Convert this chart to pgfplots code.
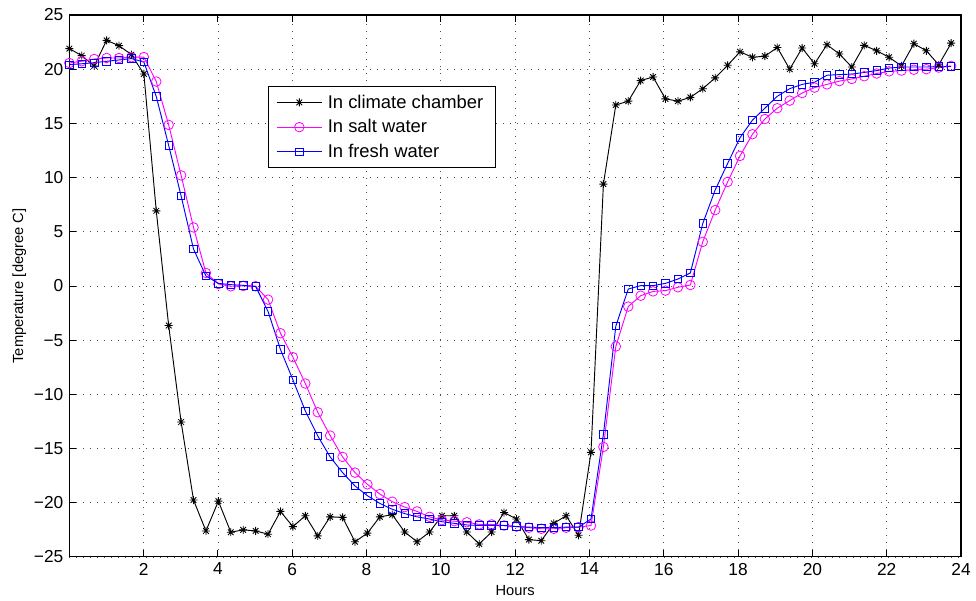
\documentclass[border=0pt]{standalone}
\usepackage{fontspec}
\setmainfont{Liberation Sans}
\usepackage{pgfplots}
\usepackage{pgfplotstable}
\pgfplotsset{compat=1.18}
\definecolor{mmag}{rgb}{1,0,1}
\definecolor{mblue}{rgb}{0,0,1}

\pgfdeclareplotmark{mstar}{%
  \pgfpathmoveto{\pgfqpoint{-\pgfplotmarksize}{0pt}}%
  \pgfpathlineto{\pgfqpoint{\pgfplotmarksize}{0pt}}%
  \pgfpathmoveto{\pgfqpoint{0pt}{-\pgfplotmarksize}}%
  \pgfpathlineto{\pgfqpoint{0pt}{\pgfplotmarksize}}%
  \pgfpathmoveto{\pgfqpoint{-0.707\pgfplotmarksize}{-0.707\pgfplotmarksize}}%
  \pgfpathlineto{\pgfqpoint{0.707\pgfplotmarksize}{0.707\pgfplotmarksize}}%
  \pgfpathmoveto{\pgfqpoint{-0.707\pgfplotmarksize}{0.707\pgfplotmarksize}}%
  \pgfpathlineto{\pgfqpoint{0.707\pgfplotmarksize}{-0.707\pgfplotmarksize}}%
  \pgfusepathqstroke}

\pgfplotstableread{
x b m f
0 21.9 20.57 20.42
0.334 21.25 20.73 20.5
0.669 20.3 20.94 20.6
1.003 22.66 21.03 20.73
1.337 22.17 21.03 20.85
1.672 21.34 21.1 20.98
2.006 19.56 21.12 20.66
2.340 6.93 18.86 17.48
2.674 -3.65 14.86 12.97
3.009 -12.55 10.2 8.3
3.343 -19.75 5.4 3.4
3.677 -22.6 1.2 0.92
4.012 -19.85 0.18 0.24
4.346 -22.72 -0.03 0.12
4.680 -22.5 0.0 0.06
5.015 -22.6 -0.02 -0.05
5.349 -22.9 -1.26 -2.35
5.683 -20.8 -4.36 -5.86
6.017 -22.2 -6.57 -8.65
6.352 -21.2 -9.0 -11.53
6.686 -23.06 -11.65 -13.83
7.020 -21.3 -13.8 -15.77
7.355 -21.35 -15.77 -17.22
7.689 -23.6 -17.22 -18.45
8.023 -22.8 -18.3 -19.35
8.358 -21.3 -19.2 -20.06
8.692 -21.1 -19.9 -20.6
9.026 -22.7 -20.4 -21.0
9.360 -23.6 -20.8 -21.3
9.695 -22.7 -21.3 -21.5
10.029 -21.2 -21.6 -21.75
10.363 -21.2 -21.7 -21.9
10.698 -22.7 -21.8 -22.05
11.032 -23.8 -22.0 -22.1
11.366 -22.7 -22.0 -22.1
11.701 -20.9 -22.1 -22.1
12.035 -21.5 -22.2 -22.2
12.369 -23.4 -22.3 -22.25
12.703 -23.5 -22.4 -22.3
13.038 -21.9 -22.4 -22.3
13.372 -21.2 -22.3 -22.25
13.706 -23.0 -22.25 -22.25
14.041 -15.35 -22.1 -21.5
14.375 9.4 -14.85 -13.7
14.709 16.7 -5.58 -3.7
15.044 17.05 -1.9 -0.28
15.378 18.95 -0.9 0.03
15.712 19.28 -0.5 0.03
16.046 17.26 -0.43 0.24
16.381 17.05 -0.12 0.64
16.715 17.4 0.09 1.2
17.049 18.2 4.07 5.76
17.384 19.2 7.0 8.86
17.718 20.36 9.6 11.3
18.052 21.6 12.0 13.68
18.387 21.1 14.0 15.3
18.721 21.2 15.4 16.4
19.055 22.0 16.4 17.5
19.389 20.0 17.1 18.2
19.724 21.95 17.8 18.6
20.058 20.5 18.3 18.8
20.392 22.26 18.6 19.44
20.727 21.4 18.9 19.5
21.061 20.2 19.1 19.55
21.395 22.2 19.35 19.7
21.730 21.7 19.6 19.87
22.064 21.1 19.8 20.1
22.398 20.3 19.87 20.2
22.732 22.35 19.95 20.2
23.067 21.7 20.0 20.2
23.401 20.4 20.15 20.25
23.735 22.4 20.3 20.25
}\datatable

\begin{document}
\begin{tikzpicture}
\begin{axis}[
  scale only axis,
  width=668.8pt, height=406.5pt,
  xmin=0, xmax=24, ymin=-25, ymax=25,
  xtick={2,4,...,24},
  ytick={-25,-20,...,25},
  yticklabels={−25,−20,−15,−10,−5,0,5,10,15,20,25},
  /pgf/number format/assume math mode=true,
  tick label style={font=\fontsize{13}{15}\selectfont},
  xticklabel style={yshift=-1pt},
  yticklabel style={xshift=-1pt},
  tick align=inside,
  major tick length=5pt,
  tick style={black, line width=0.7pt},
  axis line style={line width=0.8pt},
  grid=major,
  major grid style={black!70, line width=0.6pt, dash pattern=on 0.75pt off 4.5pt},
  xlabel={Hours},
  ylabel={Temperature [degree C]},
  label style={font=\fontsize{11}{13}\selectfont},
  xlabel style={at={(axis description cs:0.5,-0.0627)}, anchor=center},
  ylabel style={at={(axis description cs:-0.056,0.5)}, anchor=center},
  legend cell align=left,
  legend style={at={(0.2232,0.8685)}, anchor=north west, draw=black, line width=0.8pt,
    font=\fontsize{13.8}{16}\selectfont, inner xsep=5.5pt, inner ysep=4pt, row sep=3pt,
    nodes={line width=0.6pt, inner xsep=4pt}},
  legend image code/.code={\draw[mark repeat=2,mark phase=2] plot coordinates {(0pt,0pt) (17pt,0pt) (34pt,0pt)};},
]
\addplot[black, line width=0.7pt, mark=mstar, mark size=3pt, mark options={line width=0.65pt}] table[x=x,y=b] {\datatable};
\addlegendentry{In climate chamber}
\addplot[mmag, line width=0.7pt, mark=o, mark size=3.6pt, mark options={line width=0.6pt}] table[x=x,y=m] {\datatable};
\addlegendentry{In salt water}
\addplot[mblue, line width=0.7pt, mark=square, mark size=2.8pt, mark options={line width=0.6pt}] table[x=x,y=f] {\datatable};
\addlegendentry{In fresh water}
\end{axis}
\pgfresetboundingbox
\path[use as bounding box] ([xshift=-52pt,yshift=-33pt]current axis.south west) rectangle ([xshift=11.25pt,yshift=11.25pt]current axis.north east);
\end{tikzpicture}
\end{document}
